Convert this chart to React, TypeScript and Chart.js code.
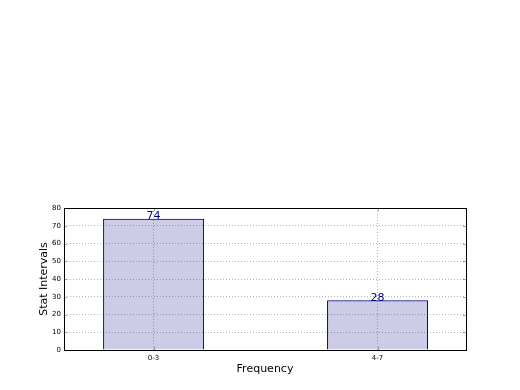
import React, { useEffect, useRef } from "react";
import { Chart, registerables } from "chart.js";

Chart.register(...registerables);

const categories = ["0-3", "4-7"];
const positions = [0, 1];
const values = [74, 28];
const yTicks = [0, 10, 20, 30, 40, 50, 60, 70, 80];

const NAVY = "#000080";
const FONT = "'DejaVu Sans', sans-serif";

const framePlugin = {
  id: "frame",
  afterDatasetsDraw(chart: any) {
    const { ctx, chartArea } = chart;
    const { left, right, top, bottom } = chartArea;
    ctx.save();
    const meta = chart.getDatasetMeta(0);
    ctx.fillStyle = NAVY;
    ctx.font = `11px ${FONT}`;
    ctx.textAlign = "center";
    ctx.textBaseline = "bottom";
    meta.data.forEach((el: any, i: number) => {
      ctx.fillText(String(values[i]), el.x, el.y + 3);
    });
    ctx.strokeStyle = "rgba(0,0,0,0.35)";
    ctx.lineWidth = 1;
    const ys = chart.scales.y;
    ys.ticks.forEach((t: any) => {
      const py = Math.round(ys.getPixelForValue(t.value)) + 0.5;
      ctx.beginPath();
      ctx.moveTo(left, py);
      ctx.lineTo(left + 3, py);
      ctx.moveTo(right, py);
      ctx.lineTo(right - 3, py);
      ctx.stroke();
    });
    const xs = chart.scales.x;
    xs.ticks.forEach((t: any) => {
      const px = Math.round(xs.getPixelForValue(t.value)) + 0.5;
      ctx.beginPath();
      ctx.moveTo(px, bottom);
      ctx.lineTo(px, bottom - 3);
      ctx.moveTo(px, top);
      ctx.lineTo(px, top + 3);
      ctx.stroke();
    });
    ctx.strokeStyle = "#000";
    ctx.strokeRect(Math.round(left) + 0.5, Math.round(top) + 0.5, Math.round(right - left), Math.round(bottom - top));
    ctx.restore();
  },
};

export default function App() {
  const ref = useRef<HTMLCanvasElement>(null);
  useEffect(() => {
    if (!ref.current) return;
    const chart = new Chart(ref.current, {
      type: "bar",
      data: {
        datasets: [
          {
            data: positions.map((x, i) => ({ x, y: values[i] })),
            backgroundColor: "rgba(0,0,128,0.2)",
            borderColor: NAVY,
            borderWidth: 1,
            categoryPercentage: 1,
            barPercentage: 0.451,
          },
        ],
      },
      options: {
        animation: false,
        responsive: false,
        maintainAspectRatio: false,
        layout: { padding: { left: 0, right: 54, top: 208, bottom: 0 } },
        plugins: { legend: { display: false }, tooltip: { enabled: false } },
        scales: {
          x: {
            type: "linear",
            min: -0.4,
            max: 1.395,
            offset: false,
            afterBuildTicks: (scale: any) => {
              scale.ticks = positions.map((v) => ({ value: v }));
            },
            afterFit: (scale: any) => {
              scale.height = 40;
            },
            ticks: {
              callback: (v: any) => categories[positions.indexOf(Number(v))] ?? "",
              font: { family: FONT, size: 7 },
              color: "#000",
              padding: 4,
              maxRotation: 0,
            },
            grid: {
              offset: false,
              color: "rgba(0,0,0,0.3)",
              lineWidth: 1,
              drawTicks: false,
            },
            border: { display: false, dash: [1, 2] },
            title: {
              display: true,
              text: "Frequency",
              font: { family: FONT, size: 11 },
              color: "#000",
              padding: { top: 0, bottom: 14 },
            },
          },
          y: {
            min: 0,
            max: 80,
            afterBuildTicks: (scale: any) => {
              scale.ticks = yTicks.map((v) => ({ value: v }));
            },
            afterFit: (scale: any) => {
              scale.width = 64;
            },
            ticks: {
              font: { family: FONT, size: 7 },
              color: "#000",
              padding: 3,
            },
            grid: {
              color: "rgba(0,0,0,0.3)",
              lineWidth: 1,
              drawTicks: false,
            },
            border: { display: false, dash: [1, 2] },
            title: {
              display: true,
              text: "Stat Intervals",
              font: { family: FONT, size: 11 },
              color: "#000",
              padding: { top: 38, bottom: 0 },
            },
          },
        },
      } as any,
      plugins: [framePlugin],
    });
    return () => chart.destroy();
  }, []);
  return (
    <div style={{ position: "fixed", left: 0, top: 0, width: 520, height: 390, background: "#fff" }}>
      <canvas ref={ref} width={520} height={390} style={{ width: 520, height: 390 }} />
    </div>
  );
}
